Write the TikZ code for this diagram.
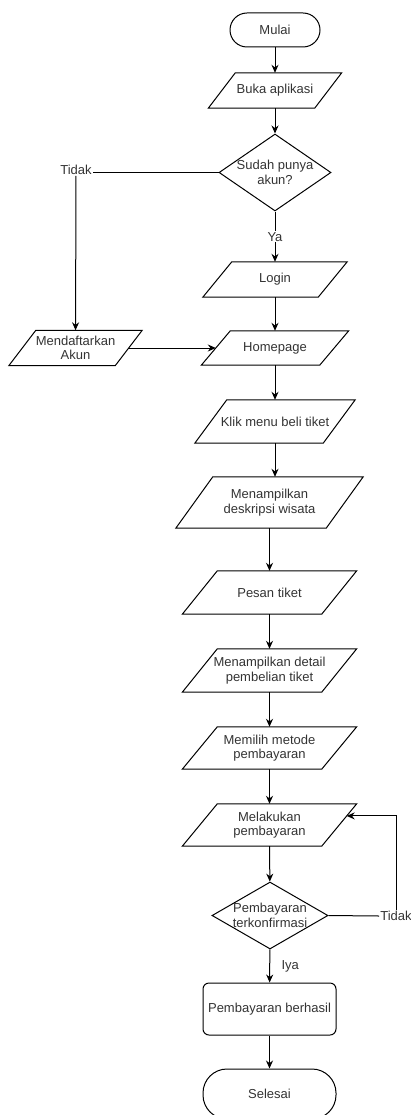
\documentclass[tikz,border=0pt]{standalone}
\usepackage{fontspec}
\setmainfont{Liberation Sans}
\usetikzlibrary{calc,shapes.geometric,arrows.meta}

\begin{document}
\begin{tikzpicture}[x=1pt, y=-1pt,
		every node/.style={font=\fontsize{13}{14.5}\selectfont, text=black!80},
		line/.style={line width=1pt},
		arrow/.style={line width=1pt, -{Stealth[length=8pt, width=7pt]}},
		terminal/.style={draw, line width=1pt, rectangle, rounded corners=#1, align=center},
		io/.style={rectangle, align=center, inner sep=0pt},
		decision/.style={draw, line width=1pt, diamond, aspect=1.7, inner sep=-2pt, align=center},
		process/.style={draw, line width=1pt, rectangle, rounded corners=6pt, align=center},
		label/.style={fill=white, inner sep=1pt}]
		%%%%% START %%%%%
		
		\useasboundingbox (0, 0) rectangle (410, 1115);
		
		\node[terminal=17pt, minimum width=90pt, minimum height=34pt] (mulai) at (275, 30) {Mulai};
		\node[io, minimum width=106pt, minimum height=35pt] (buka) at (275, 90.5) {Buka aplikasi};
		\node[decision, minimum width=112pt, minimum height=77pt] (akun) at (275, 172.5) {Sudah punya\\akun?};
		\node[io, minimum width=115pt, minimum height=35pt] (login) at (275, 279.5) {Login};
		\node[io, minimum width=118pt, minimum height=34pt] (home) at (275, 348) {Homepage};
		\node[io, minimum width=106pt, minimum height=35pt] (daftar) at (75.5, 348) {Mendaftarkan\\Akun};
		\node[io, minimum width=128pt, minimum height=43pt] (menu) at (275, 421.5) {Klik menu beli tiket};
		\node[io, minimum width=150pt, minimum height=51pt] (deskripsi) at (269.5, 502.5) {Menampilkan\\deskripsi wisata};
		\node[io, minimum width=139pt, minimum height=43pt] (pesan) at (269.5, 592.5) {Pesan tiket};
		\node[io, minimum width=139pt, minimum height=43pt] (detail) at (269.5, 670.5) {Menampilkan detail\\pembelian tiket};
		\node[io, minimum width=139pt, minimum height=42pt] (metode) at (269.5, 748) {Memilih metode\\pembayaran};
		\node[io, minimum width=139pt, minimum height=42pt] (bayar) at (269.5, 825) {Melakukan\\pembayaran};
		\node[decision, minimum width=116pt, minimum height=67pt] (konfirm) at (270, 915.5) {Pembayaran\\terkonfirmasi};
		\node[process, minimum width=133pt, minimum height=52pt] (berhasil) at (269.5, 1009) {Pembayaran berhasil};
		\node[terminal=24pt, minimum width=133pt, minimum height=50pt] (selesai) at (269.5, 1094) {Selesai};
		
		% jajaran genjang
		\foreach \n/\s in {buka/27, login/29, home/29, daftar/27, menu/32, deskripsi/37, pesan/35, detail/35, metode/35, bayar/35}
			\draw[line] ($(\n.south west)+(-\s/2,0)$) -- ($(\n.south east)+(-\s/2,0)$)
				-- ($(\n.north east)+(\s/2,0)$) -- ($(\n.north west)+(\s/2,0)$) -- cycle;
		
		\node[inner sep=1pt] (tidakA) at (76, 170) {Tidak};
		\node[inner sep=1pt] (tidakB) at (396, 916) {Tidak};
		\coordinate (ulang) at ($($(bayar.north east)+(17.5,0)$)!0.286!($(bayar.south east)+(-17.5,0)$)$);
		
		\draw[arrow] (mulai) -- (buka);
		\draw[arrow] (buka) -- (akun);
		\draw[arrow] (akun) -- node[label] {Ya} (login);
		\draw[line] (akun.west) -- (akun.west -| tidakA.east);
		\draw[arrow] (tidakA) -- (daftar);
		\draw[arrow] (daftar) -- (home);
		\draw[arrow] (login) -- (home);
		\draw[arrow] (home) -- (menu);
		\draw[arrow] (menu) -- (menu |- deskripsi.north);
		\draw[arrow] (deskripsi) -- (pesan);
		\draw[arrow] (pesan) -- (detail);
		\draw[arrow] (detail) -- (metode);
		\draw[arrow] (metode) -- (bayar);
		\draw[arrow] (bayar) -- (konfirm);
		\draw[line] (konfirm.east) -- (tidakB.west);
		\draw[arrow] (tidakB.north) |- (ulang);
		\draw[arrow] (konfirm) -- node[right=8pt] {Iya} (berhasil);
		\draw[arrow] (berhasil) -- (selesai);
		
		%%%%% END %%%%%
	\end{tikzpicture}
\end{document}
